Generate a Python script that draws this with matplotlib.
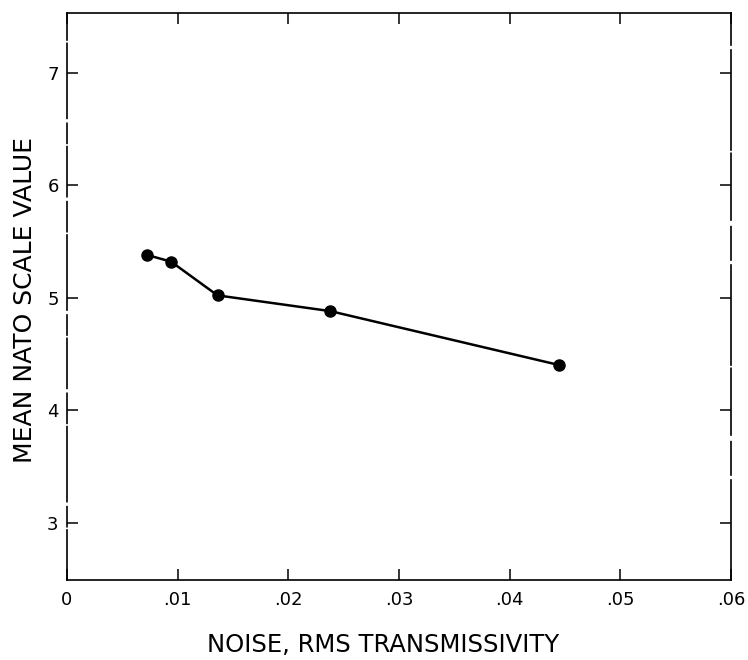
import matplotlib
matplotlib.use('Agg')
from matplotlib import pyplot as plt

# rms transmissivity noise vs. mean NATO scale rating
noise = [0.0072, 0.0094, 0.0136, 0.0238, 0.0445]
nato_mean = [5.38, 5.32, 5.02, 4.88, 4.40]

x_ticks = [0, 0.01, 0.02, 0.03, 0.04, 0.05, 0.06]
x_tick_labels = ['0', '.01', '.02', '.03', '.04', '.05', '.06']
y_ticks = [3, 4, 5, 6, 7]

plt.rcParams['font.family'] = ['DejaVu Sans']

W, H = 748, 660
fig = plt.figure(figsize=(W / 100, H / 100), dpi=100)
ax = fig.add_axes([67 / W, 1 - 580 / H, (731 - 67) / W, (580 - 13) / H])

ax.plot(noise, nato_mean, color='black', linewidth=1.8, marker='o',
        markersize=8, markerfacecolor='black', markeredgecolor='black')

ax.set_xlim(0, 0.06)
ax.set_ylim(2.49, 7.53)
ax.set_xticks(x_ticks)
ax.set_xticklabels(x_tick_labels)
ax.set_yticks(y_ticks)

ax.tick_params(direction='in', length=8, width=1.1, top=True, right=True,
               labelsize=13, pad=6)
ax.tick_params(axis='x', pad=8)

# broken look of the hand-inked frame
ax.spines['left'].set_linestyle((0, (30, 2, 12, 3, 45, 2, 18, 3)))
ax.spines['right'].set_linestyle((0, (60, 3, 20, 4, 40, 2)))
for side in ax.spines:
    ax.spines[side].set_linewidth(1.2)

fig.text(383 / W, 1 - 645 / H, 'NOISE, RMS TRANSMISSIVITY', fontsize=17.5,
         ha='center', va='center')
fig.text(25 / W, 1 - 300 / H, 'MEAN NATO SCALE VALUE', fontsize=18,
         rotation=90, ha='center', va='center')

fig.savefig('out.png', dpi=100)
